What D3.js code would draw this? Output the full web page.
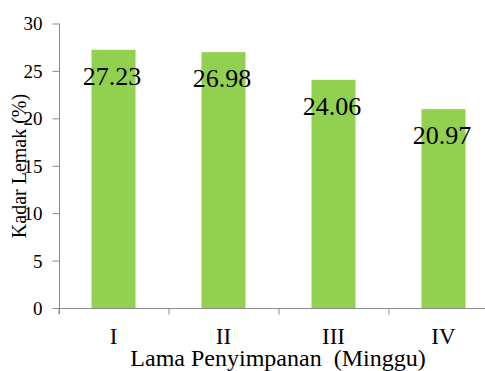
<!DOCTYPE html>
<html>
<head>
<meta charset="utf-8">
<script src="https://cdn.jsdelivr.net/npm/d3@7"></script>
</head>
<body style="margin:0">
<svg id="chart" width="485" height="371" style="font-family: 'Liberation Serif', Tinos, 'Times New Roman', serif"></svg>
<script>
const categories = ["I", "II", "III", "IV"];
const values = [27.23, 26.98, 24.06, 20.97];
const valueLabels = ["27.23", "26.98", "24.06", "20.97"];
const yTicks = [0, 5, 10, 15, 20, 25, 30];
const xTitle = "Lama Penyimpanan  (Minggu)";
const yTitle = "Kadar Lemak (%)";

const FONT = "'Liberation Serif', Tinos, 'Times New Roman', serif";
const svg = d3.select("#chart");
const axisColor = "#8c8c8c";

const x = d3.scaleBand().domain(categories).range([58.5, 498.5])
  .paddingInner(0.6).paddingOuter(0.3);
const y = d3.scaleLinear().domain([0, 30]).range([308, 23.5]);

// bars
svg.append("g").selectAll("rect").data(values).join("rect")
  .attr("x", (d, i) => x(categories[i]))
  .attr("y", d => y(d))
  .attr("width", x.bandwidth())
  .attr("height", d => y(0) - y(d))
  .attr("fill", "#92D050");

// y axis
const yAxis = svg.append("g").attr("transform", "translate(59.5,0)")
  .call(d3.axisLeft(y).tickValues(yTicks).tickSize(7).tickPadding(10).tickSizeOuter(0));
yAxis.attr("font-family", null).attr("font-size", null);
yAxis.select(".domain").attr("stroke", axisColor).attr("d", `M0,${y(30)}V314`);
yAxis.selectAll(".tick line").attr("stroke", axisColor);
yAxis.selectAll(".tick text").attr("fill", "#000").attr("dy", "0.34em")
  .style("font-family", FONT).style("font-size", "19px");

// x axis
const xAxisG = svg.append("g").attr("transform", "translate(0,308.5)");
xAxisG.append("line").attr("x1", 58.5).attr("x2", 485).attr("y1", 0).attr("y2", 0)
  .attr("stroke", axisColor);
const bounds = categories.map(c => x(c) - x.step() * x.paddingOuter());
xAxisG.selectAll("line.tk").data(bounds).join("line").attr("class", "tk")
  .attr("x1", d => d + 0.5).attr("x2", d => d + 0.5).attr("y1", 0).attr("y2", 6)
  .attr("stroke", axisColor);
xAxisG.selectAll("text").data(categories).join("text")
  .attr("x", d => x(d) + x.bandwidth() / 2)
  .attr("y", 35)
  .attr("text-anchor", "middle")
  .style("font-family", FONT).style("font-size", "23px")
  .text(d => d);

// value labels
svg.append("g").selectAll("text").data(values).join("text")
  .attr("x", (d, i) => x(categories[i]) + x.bandwidth() / 2 - 1.5)
  .attr("y", d => y(d) + 35)
  .attr("text-anchor", "middle")
  .style("font-family", FONT).style("font-size", "26px")
  .text((d, i) => valueLabels[i]);

// axis titles
svg.append("text").attr("x", 278).attr("y", 366)
  .attr("text-anchor", "middle")
  .style("font-family", FONT).style("font-size", "24px")
  .style("white-space", "pre").text(xTitle);

svg.append("text")
  .attr("transform", "translate(26,166) rotate(-90)")
  .attr("text-anchor", "middle")
  .style("font-family", FONT).style("font-size", "20px")
  .text(yTitle);
</script>
</body>
</html>
